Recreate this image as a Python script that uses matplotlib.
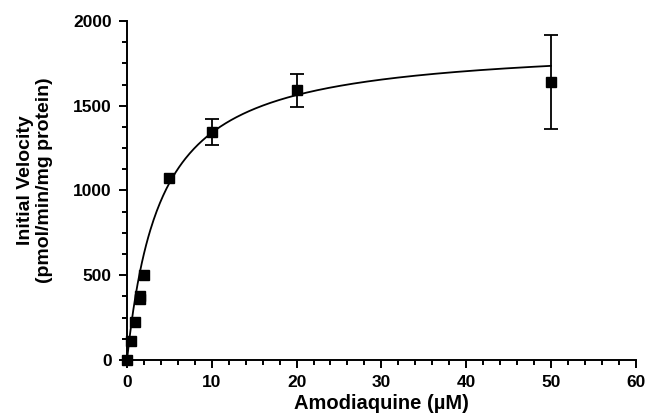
import numpy as np
import matplotlib
matplotlib.use('Agg')
import matplotlib.pyplot as plt
from matplotlib.ticker import MultipleLocator

# Datos
conc = [0, 0.5, 1, 1.5, 1.5, 2, 5, 10, 20, 50]
velocidad = [0, 110, 225, 360, 380, 500, 1075, 1345, 1590, 1640]
error = [0, 0, 0, 0, 0, 0, 0, 78, 100, 277]

# Parámetros de Michaelis-Menten estimados de la curva
VMAX = 1873
KM = 3.97

plt.rcParams['font.family'] = ['Liberation Sans', 'DejaVu Sans']
plt.rcParams['font.weight'] = 'bold'

fig = plt.figure(figsize=(6.48, 4.16), dpi=100)
ax = fig.add_axes([0.196, 0.1346, 0.785, 0.815])

xs = np.linspace(0, 50, 400)
ax.plot(xs, VMAX * xs / (KM + xs), color='black', lw=1.3, zorder=2)

# Barras de error sólo donde hay error
con_err = [i for i, e in enumerate(error) if e > 0]
ax.errorbar([conc[i] for i in con_err], [velocidad[i] for i in con_err],
            yerr=[error[i] for i in con_err], fmt='none', ecolor='black',
            capsize=5, elinewidth=1.3, capthick=1.3, zorder=3)
ax.plot(conc, velocidad, 's', color='black', ms=6.5, zorder=4, clip_on=False)

ax.set_xlim(0, 60)
ax.set_ylim(0, 2000)
ax.xaxis.set_major_locator(MultipleLocator(10))
ax.xaxis.set_minor_locator(MultipleLocator(2))
ax.yaxis.set_major_locator(MultipleLocator(500))
ax.yaxis.set_minor_locator(MultipleLocator(125))

for s in ['top', 'right']:
    ax.spines[s].set_visible(False)
for s in ['left', 'bottom']:
    ax.spines[s].set_linewidth(1.4)

ax.tick_params(which='major', length=6, width=1.4, labelsize=12.5, pad=5)
ax.tick_params(which='minor', length=3.5, width=1.4)
for lbl in ax.get_xticklabels() + ax.get_yticklabels():
    lbl.set_fontweight('bold')

ax.set_xlabel('Amodiaquine (µM)', fontsize=14.5, fontweight='bold', labelpad=3)
ax.set_ylabel('Initial Velocity\n(pmol/min/mg protein)', fontsize=14,
              fontweight='bold')
ax.yaxis.set_label_coords(-0.145, 0.53)

fig.savefig('out.png', dpi=100)
